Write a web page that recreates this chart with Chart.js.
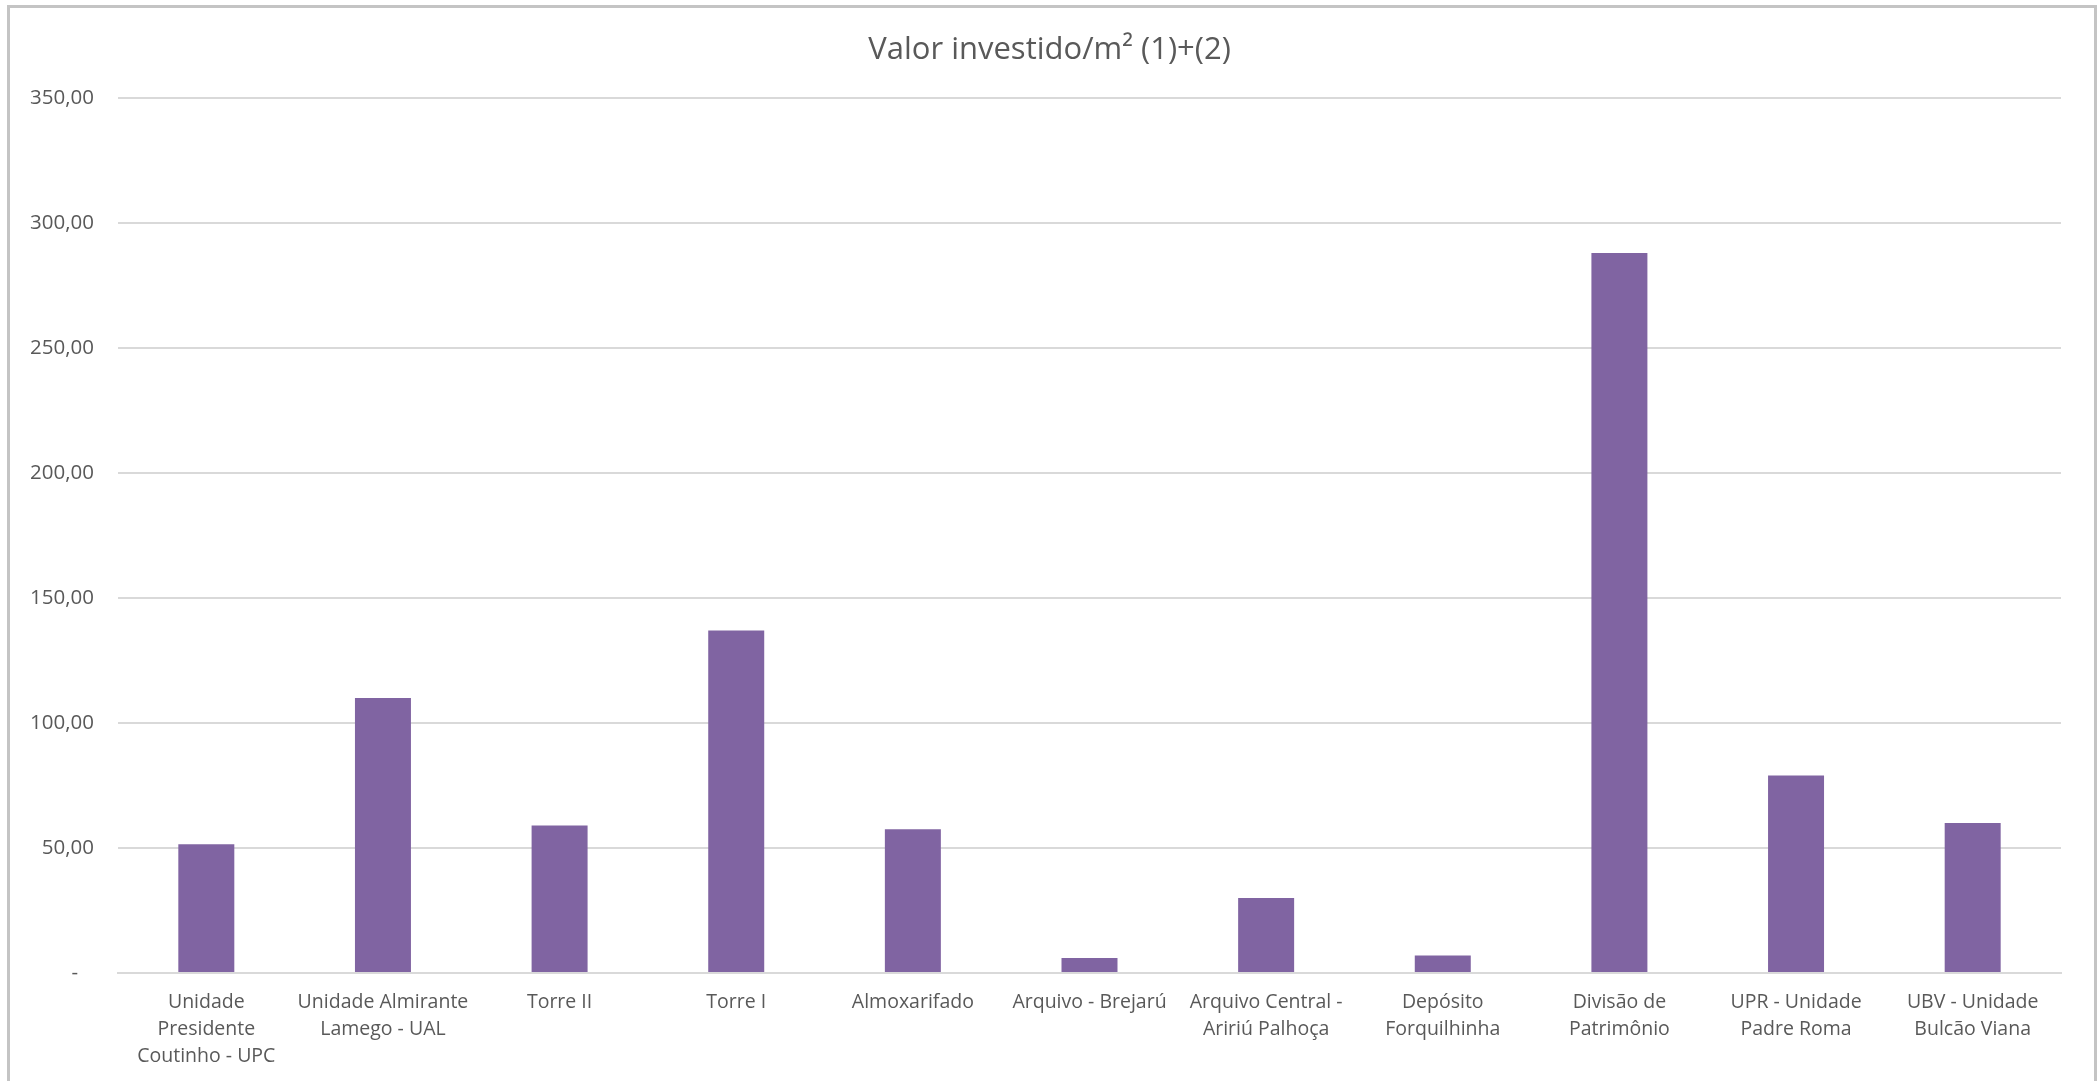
<!DOCTYPE html>
<html>
<head>
<meta charset="utf-8">
<title>Valor investido/m²</title>
<script src="https://cdn.jsdelivr.net/npm/chart.js@4"></script>
<style>
    html, body { margin: 0; padding: 0; background: #fff; overflow: hidden; }
    #wrap { position: absolute; left: 0; top: 0; width: 2099px; height: 1081px; }
    #frame {
        position: absolute; left: 7px; top: 5px; width: 2084px; height: 1100px;
        border: 3px solid #C4C4C4; pointer-events: none;
    }
</style>
</head>
<body>
<div id="wrap">
    <canvas id="chart" width="2099" height="1081"></canvas>
    <div id="frame"></div>
</div>
<script>
// Chart data
const categories = [
    ['Unidade', 'Presidente', 'Coutinho - UPC'],
    ['Unidade Almirante', 'Lamego - UAL'],
    'Torre II',
    'Torre I',
    'Almoxarifado',
    'Arquivo - Brejarú',
    ['Arquivo Central -', 'Aririú Palhoça'],
    ['Depósito', 'Forquilhinha'],
    ['Divisão de', 'Patrimônio'],
    ['UPR - Unidade', 'Padre Roma'],
    ['UBV - Unidade', 'Bulcão Viana']
];
const valorInvestido = [51.5, 110, 59, 137, 57.5, 6, 30, 7, 288, 79, 60];
const yTicks = [0, 50, 100, 150, 200, 250, 300, 350];
const chartTitle = 'Valor investido/m² (1)+(2)';

const textColor = '#595959';
const gridColor = '#D9D9D9';
const barColor = '#8064A2';
const fontFamily = '"Open Sans", "DejaVu Sans", sans-serif';

// Excel style number format: 350,00 and "-" for zero
function formatTick(value) {
    if (value === 0) return '-   ';
    return value.toFixed(2).replace('.', ',');
}

// Title centred on the whole canvas (like Excel), not on the padded layout box
const canvasTitle = {
    id: 'canvasTitle',
    afterDraw(chart) {
        const c = chart.ctx;
        c.save();
        c.font = '31px ' + fontFamily;
        c.fillStyle = textColor;
        c.textAlign = 'center';
        c.textBaseline = 'middle';
        c.fillText(chartTitle, chart.width / 2, 50);
        c.restore();
    }
};

Chart.defaults.font.family = fontFamily;
Chart.defaults.color = textColor;

const ctx = document.getElementById('chart').getContext('2d');
new Chart(ctx, {
    type: 'bar',
    data: {
        labels: categories,
        datasets: [{
            label: chartTitle,
            data: valorInvestido,
            backgroundColor: barColor,
            borderWidth: 0,
            barPercentage: 0.317,
            categoryPercentage: 1
        }]
    },
    options: {
        responsive: false,
        animation: false,
        devicePixelRatio: 1,
        layout: {
            padding: { left: 0, right: 38, top: 98, bottom: 0 }
        },
        plugins: {
            legend: { display: false },
            tooltip: { enabled: false },
            title: { display: false }
        },
        scales: {
            x: {
                grid: { display: false, drawTicks: false },
                border: { display: true, color: gridColor, width: 2 },
                ticks: {
                    autoSkip: false,
                    maxRotation: 0,
                    minRotation: 0,
                    padding: 16,
                    color: textColor,
                    font: { size: 19.5, lineHeight: 1.39 }
                },
                afterFit: (scale) => { scale.height = 108; }
            },
            y: {
                min: 0,
                max: 350,
                afterBuildTicks: (scale) => {
                    scale.ticks = yTicks.map(v => ({ value: v }));
                },
                grid: { color: gridColor, lineWidth: 2, drawTicks: false },
                border: { display: false },
                ticks: {
                    padding: 24,
                    color: textColor,
                    font: { size: 20.5 },
                    callback: (value) => formatTick(value)
                },
                afterFit: (scale) => { scale.width = 118; }
            }
        }
    },
    plugins: [canvasTitle]
});
</script>
</body>
</html>
